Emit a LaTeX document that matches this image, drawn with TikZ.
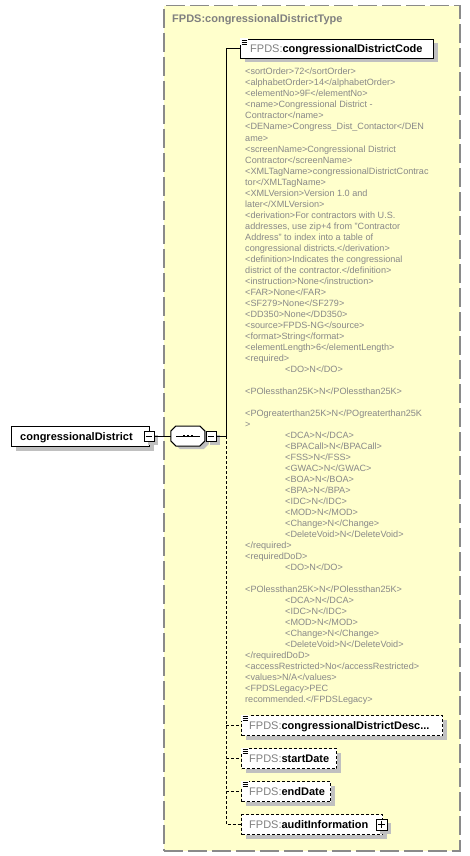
\documentclass[tikz,border=0pt]{standalone}
\usepackage{fontspec}
\setmainfont{Liberation Sans}
\usetikzlibrary{shadows}
\definecolor{typebg}{HTML}{FFFFCC}
\definecolor{typeborder}{HTML}{8A8A8A}
\definecolor{shadowgray}{HTML}{C0C0C0}
\definecolor{docgray}{HTML}{888888}
\definecolor{pfxgray}{HTML}{808080}
\newcommand{\pfx}{\mdseries\color{pfxgray}FPDS:}
\newcommand{\nm}{\bfseries\color{black}}
\tikzset{
  sh/.style={drop shadow={shadow xshift=4pt, shadow yshift=-4pt, fill=shadowgray, opacity=1}},
  elembox/.style={draw=black, fill=white, line width=1pt, inner sep=0pt, anchor=north west, sh},
  optbox/.style={elembox, dash pattern=on 3pt off 2pt},
  nametext/.style={anchor=base west, inner sep=0pt, font=\fontsize{11}{13}\selectfont},
  doctext/.style={anchor=base west, inner sep=0pt, font=\fontsize{9.1}{11}\selectfont, text=docgray},
  smallbox/.style={draw=black, fill=white, line width=1pt, inner sep=0pt, minimum size=10pt, sh},
  conn/.style={draw=black, line width=1pt},
  optconn/.style={conn, dash pattern=on 3pt off 2pt},
}
\newcommand{\docicon}[2]{%
  \fill[white] (#1-0.5,#2-0.5) rectangle (#1+8,#2+6);
  \draw[line width=0.9pt] (#1+1.5,#2+1) -- (#1+7,#2+1) (#1+1.5,#2+3) -- (#1+7,#2+3) (#1+1.5,#2+5) -- (#1+7,#2+5);
}
\begin{document}
\begin{tikzpicture}[x=1pt,y=-1pt]
\useasboundingbox (0,0) rectangle (470,856);
% complex type area
\node[draw=typeborder, fill=typebg, line width=1.5pt, dash pattern=on 19pt off 5pt,
      minimum width=296pt, minimum height=845pt, anchor=north west, inner sep=0pt] (type) at (163,5) {};
\node[anchor=base west, inner sep=0pt, font=\fontsize{11}{13}\selectfont\bfseries, text=pfxgray] (typet) at (172,23) {FPDS:congressionalDistrictType};

% left element
\node[elembox, minimum width=138pt, minimum height=20pt] (cd) at (11,426) {};
\node[nametext] (cdt) at (20,440) {\nm congressionalDistrict};
\node[smallbox] (cdm) at (149,436) {};
\draw[line width=1pt] (cdm.west) ++(2,0) -- ++(6,0);

% sequence compositor (octagon)
\node[minimum width=34pt, minimum height=20pt, inner sep=0pt] (seq) at (188,436) {};
\fill[shadowgray] ([shift={(4,3)}]seq.west) -- ++(0,-5) -- ++(5,-5) -- ++(24,0) -- ++(5,5) -- ++(0,10) -- ++(-5,5) -- ++(-24,0) -- ++(-5,-5) -- cycle;
\filldraw[fill=white, draw=black, line width=1pt] (seq.west) ++(0,5) -- ++(0,-10) -- ++(5,-5) -- ++(24,0) -- ++(5,5) -- ++(0,10) -- ++(-5,5) -- ++(-24,0) -- cycle;
\draw[line width=1pt] (176,436) -- (200,436);
\foreach \xx in {184,188,192} \fill (\xx-1.4,434.6) rectangle (\xx+1.4,437.4);
\node[smallbox] (seqm) at (211,436) {};
\draw[line width=1pt] (seqm.west) ++(2,0) -- ++(6,0);

\draw[conn] (cdm.east) -- (seq.west);
\coordinate (bus) at (226,436);

% child elements
\node[elembox, minimum width=193pt, minimum height=19pt] (code) at (240,39) {};
\node[optbox, minimum width=201pt, minimum height=20pt] (desc) at (241,715) {};
\node[optbox, minimum width=95pt, minimum height=20pt] (start) at (241,748) {};
\node[optbox, minimum width=89pt, minimum height=20pt] (end) at (241,781) {};
\node[optbox, minimum width=141pt, minimum height=20pt] (audit) at (241,814) {};
\node[smallbox, minimum size=11pt] (auditp) at (381.5,824.5) {};
\draw[line width=1pt] (auditp.west) ++(2,0) -- ++(7,0);
\draw[line width=1pt] (auditp.north) ++(0,2) -- ++(0,7);

\docicon{240}{39}
\docicon{241}{715}
\docicon{241}{748}
\docicon{241}{781}

\node[nametext] (codet) at (250,52.5) {\pfx\nm congressionalDistrictCode};
\node[nametext] (desct) at (249,729) {\pfx\nm congressionalDistrictDesc...};
\node[nametext] (startt) at (249,762) {\pfx\nm startDate};
\node[nametext] (endt) at (249,795) {\pfx\nm endDate};
\node[nametext] (auditt) at (249,828) {\pfx\nm auditInformation};

% connectors
\draw[conn] (seqm.east) -- (bus) |- (code.west);
\draw[optconn] (bus) |- (audit.west);
\draw[optconn] (desc.west -| bus) -- (desc.west);
\draw[optconn] (start.west -| bus) -- (start.west);
\draw[optconn] (end.west -| bus) -- (end.west);

% documentation
\foreach \dx/\t [count=\i from 0] in {
 0/{<sortOrder>72</sortOrder>},
 0/{<alphabetOrder>14</alphabetOrder>},
 0/{<elementNo>9F</elementNo>},
 0/{<name>Congressional District -},
 0/{Contractor</name>},
 0/{<DEName>Congress\_Dist\_Contactor</DEN},
 0/{ame>},
 0/{<screenName>Congressional District},
 0/{Contractor</screenName>},
 0/{<XMLTagName>congressionalDistrictContrac},
 0/{tor</XMLTagName>},
 0/{<XMLVersion>Version 1.0 and},
 0/{later</XMLVersion>},
 0/{<derivation>For contractors with U.S.},
 0/{addresses, use zip+4 from "Contractor},
 0/{Address" to index into a table of},
 0/{congressional districts.</derivation>},
 0/{<definition>Indicates the congressional},
 0/{district of the contractor.</definition>},
 0/{<instruction>None</instruction>},
 0/{<FAR>None</FAR>},
 0/{<SF279>None</SF279>},
 0/{<DD350>None</DD350>},
 0/{<source>FPDS-NG</source>},
 0/{<format>String</format>},
 0/{<elementLength>6</elementLength>},
 0/{<required>},
 40/{<DO>N</DO>},
 0/{},
 0/{<POlessthan25K>N</POlessthan25K>},
 0/{},
 0/{<POgreaterthan25K>N</POgreaterthan25K},
 0/{>},
 40/{<DCA>N</DCA>},
 40/{<BPACall>N</BPACall>},
 40/{<FSS>N</FSS>},
 40/{<GWAC>N</GWAC>},
 40/{<BOA>N</BOA>},
 40/{<BPA>N</BPA>},
 40/{<IDC>N</IDC>},
 40/{<MOD>N</MOD>},
 40/{<Change>N</Change>},
 40/{<DeleteVoid>N</DeleteVoid>},
 0/{</required>},
 0/{<requiredDoD>},
 40/{<DO>N</DO>},
 0/{},
 0/{<POlessthan25K>N</POlessthan25K>},
 40/{<DCA>N</DCA>},
 40/{<IDC>N</IDC>},
 40/{<MOD>N</MOD>},
 40/{<Change>N</Change>},
 40/{<DeleteVoid>N</DeleteVoid>},
 0/{</requiredDoD>},
 0/{<accessRestricted>No</accessRestricted>},
 0/{<values>N/A</values>},
 0/{<FPDSLegacy>PEC},
 0/{recommended.</FPDSLegacy>}}
 \node[doctext] (doc\i) at (245+\dx, 75+11*\i) {\t};
\end{tikzpicture}
\end{document}
